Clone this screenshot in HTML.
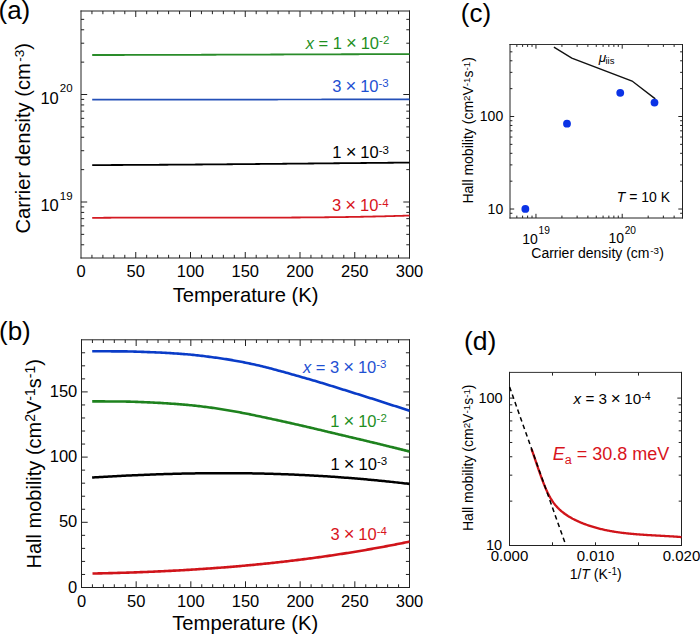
<!DOCTYPE html>
<html><head><meta charset="utf-8"><style>
html,body{margin:0;padding:0;background:#fff;overflow:hidden;}
svg{display:block;font-family:"Liberation Sans",sans-serif;}
</style></head><body>
<svg width="700" height="635" viewBox="0 0 700 635">
<rect width="700" height="635" fill="#fff"/>
<line x1="91.95" y1="258.00" x2="91.95" y2="254.80" stroke="#222" stroke-width="1.0"/>
<line x1="91.95" y1="11.00" x2="91.95" y2="14.20" stroke="#222" stroke-width="1.0"/>
<line x1="102.90" y1="258.00" x2="102.90" y2="254.80" stroke="#222" stroke-width="1.0"/>
<line x1="102.90" y1="11.00" x2="102.90" y2="14.20" stroke="#222" stroke-width="1.0"/>
<line x1="113.85" y1="258.00" x2="113.85" y2="254.80" stroke="#222" stroke-width="1.0"/>
<line x1="113.85" y1="11.00" x2="113.85" y2="14.20" stroke="#222" stroke-width="1.0"/>
<line x1="124.80" y1="258.00" x2="124.80" y2="254.80" stroke="#222" stroke-width="1.0"/>
<line x1="124.80" y1="11.00" x2="124.80" y2="14.20" stroke="#222" stroke-width="1.0"/>
<line x1="135.75" y1="258.00" x2="135.75" y2="252.00" stroke="#222" stroke-width="1.0"/>
<line x1="135.75" y1="11.00" x2="135.75" y2="17.00" stroke="#222" stroke-width="1.0"/>
<line x1="146.70" y1="258.00" x2="146.70" y2="254.80" stroke="#222" stroke-width="1.0"/>
<line x1="146.70" y1="11.00" x2="146.70" y2="14.20" stroke="#222" stroke-width="1.0"/>
<line x1="157.65" y1="258.00" x2="157.65" y2="254.80" stroke="#222" stroke-width="1.0"/>
<line x1="157.65" y1="11.00" x2="157.65" y2="14.20" stroke="#222" stroke-width="1.0"/>
<line x1="168.60" y1="258.00" x2="168.60" y2="254.80" stroke="#222" stroke-width="1.0"/>
<line x1="168.60" y1="11.00" x2="168.60" y2="14.20" stroke="#222" stroke-width="1.0"/>
<line x1="179.55" y1="258.00" x2="179.55" y2="254.80" stroke="#222" stroke-width="1.0"/>
<line x1="179.55" y1="11.00" x2="179.55" y2="14.20" stroke="#222" stroke-width="1.0"/>
<line x1="190.50" y1="258.00" x2="190.50" y2="252.00" stroke="#222" stroke-width="1.0"/>
<line x1="190.50" y1="11.00" x2="190.50" y2="17.00" stroke="#222" stroke-width="1.0"/>
<line x1="201.45" y1="258.00" x2="201.45" y2="254.80" stroke="#222" stroke-width="1.0"/>
<line x1="201.45" y1="11.00" x2="201.45" y2="14.20" stroke="#222" stroke-width="1.0"/>
<line x1="212.40" y1="258.00" x2="212.40" y2="254.80" stroke="#222" stroke-width="1.0"/>
<line x1="212.40" y1="11.00" x2="212.40" y2="14.20" stroke="#222" stroke-width="1.0"/>
<line x1="223.35" y1="258.00" x2="223.35" y2="254.80" stroke="#222" stroke-width="1.0"/>
<line x1="223.35" y1="11.00" x2="223.35" y2="14.20" stroke="#222" stroke-width="1.0"/>
<line x1="234.30" y1="258.00" x2="234.30" y2="254.80" stroke="#222" stroke-width="1.0"/>
<line x1="234.30" y1="11.00" x2="234.30" y2="14.20" stroke="#222" stroke-width="1.0"/>
<line x1="245.25" y1="258.00" x2="245.25" y2="252.00" stroke="#222" stroke-width="1.0"/>
<line x1="245.25" y1="11.00" x2="245.25" y2="17.00" stroke="#222" stroke-width="1.0"/>
<line x1="256.20" y1="258.00" x2="256.20" y2="254.80" stroke="#222" stroke-width="1.0"/>
<line x1="256.20" y1="11.00" x2="256.20" y2="14.20" stroke="#222" stroke-width="1.0"/>
<line x1="267.15" y1="258.00" x2="267.15" y2="254.80" stroke="#222" stroke-width="1.0"/>
<line x1="267.15" y1="11.00" x2="267.15" y2="14.20" stroke="#222" stroke-width="1.0"/>
<line x1="278.10" y1="258.00" x2="278.10" y2="254.80" stroke="#222" stroke-width="1.0"/>
<line x1="278.10" y1="11.00" x2="278.10" y2="14.20" stroke="#222" stroke-width="1.0"/>
<line x1="289.05" y1="258.00" x2="289.05" y2="254.80" stroke="#222" stroke-width="1.0"/>
<line x1="289.05" y1="11.00" x2="289.05" y2="14.20" stroke="#222" stroke-width="1.0"/>
<line x1="300.00" y1="258.00" x2="300.00" y2="252.00" stroke="#222" stroke-width="1.0"/>
<line x1="300.00" y1="11.00" x2="300.00" y2="17.00" stroke="#222" stroke-width="1.0"/>
<line x1="310.95" y1="258.00" x2="310.95" y2="254.80" stroke="#222" stroke-width="1.0"/>
<line x1="310.95" y1="11.00" x2="310.95" y2="14.20" stroke="#222" stroke-width="1.0"/>
<line x1="321.90" y1="258.00" x2="321.90" y2="254.80" stroke="#222" stroke-width="1.0"/>
<line x1="321.90" y1="11.00" x2="321.90" y2="14.20" stroke="#222" stroke-width="1.0"/>
<line x1="332.85" y1="258.00" x2="332.85" y2="254.80" stroke="#222" stroke-width="1.0"/>
<line x1="332.85" y1="11.00" x2="332.85" y2="14.20" stroke="#222" stroke-width="1.0"/>
<line x1="343.80" y1="258.00" x2="343.80" y2="254.80" stroke="#222" stroke-width="1.0"/>
<line x1="343.80" y1="11.00" x2="343.80" y2="14.20" stroke="#222" stroke-width="1.0"/>
<line x1="354.75" y1="258.00" x2="354.75" y2="252.00" stroke="#222" stroke-width="1.0"/>
<line x1="354.75" y1="11.00" x2="354.75" y2="17.00" stroke="#222" stroke-width="1.0"/>
<line x1="365.70" y1="258.00" x2="365.70" y2="254.80" stroke="#222" stroke-width="1.0"/>
<line x1="365.70" y1="11.00" x2="365.70" y2="14.20" stroke="#222" stroke-width="1.0"/>
<line x1="376.65" y1="258.00" x2="376.65" y2="254.80" stroke="#222" stroke-width="1.0"/>
<line x1="376.65" y1="11.00" x2="376.65" y2="14.20" stroke="#222" stroke-width="1.0"/>
<line x1="387.60" y1="258.00" x2="387.60" y2="254.80" stroke="#222" stroke-width="1.0"/>
<line x1="387.60" y1="11.00" x2="387.60" y2="14.20" stroke="#222" stroke-width="1.0"/>
<line x1="398.55" y1="258.00" x2="398.55" y2="254.80" stroke="#222" stroke-width="1.0"/>
<line x1="398.55" y1="11.00" x2="398.55" y2="14.20" stroke="#222" stroke-width="1.0"/>
<line x1="81.00" y1="244.78" x2="84.20" y2="244.78" stroke="#222" stroke-width="1.0"/>
<line x1="409.50" y1="244.78" x2="406.30" y2="244.78" stroke="#222" stroke-width="1.0"/>
<line x1="81.00" y1="234.36" x2="84.20" y2="234.36" stroke="#222" stroke-width="1.0"/>
<line x1="409.50" y1="234.36" x2="406.30" y2="234.36" stroke="#222" stroke-width="1.0"/>
<line x1="81.00" y1="225.85" x2="84.20" y2="225.85" stroke="#222" stroke-width="1.0"/>
<line x1="409.50" y1="225.85" x2="406.30" y2="225.85" stroke="#222" stroke-width="1.0"/>
<line x1="81.00" y1="218.65" x2="84.20" y2="218.65" stroke="#222" stroke-width="1.0"/>
<line x1="409.50" y1="218.65" x2="406.30" y2="218.65" stroke="#222" stroke-width="1.0"/>
<line x1="81.00" y1="212.42" x2="84.20" y2="212.42" stroke="#222" stroke-width="1.0"/>
<line x1="409.50" y1="212.42" x2="406.30" y2="212.42" stroke="#222" stroke-width="1.0"/>
<line x1="81.00" y1="206.92" x2="84.20" y2="206.92" stroke="#222" stroke-width="1.0"/>
<line x1="409.50" y1="206.92" x2="406.30" y2="206.92" stroke="#222" stroke-width="1.0"/>
<line x1="81.00" y1="202.00" x2="87.20" y2="202.00" stroke="#222" stroke-width="1.0"/>
<line x1="409.50" y1="202.00" x2="403.30" y2="202.00" stroke="#222" stroke-width="1.0"/>
<line x1="81.00" y1="169.64" x2="84.20" y2="169.64" stroke="#222" stroke-width="1.0"/>
<line x1="409.50" y1="169.64" x2="406.30" y2="169.64" stroke="#222" stroke-width="1.0"/>
<line x1="81.00" y1="150.71" x2="84.20" y2="150.71" stroke="#222" stroke-width="1.0"/>
<line x1="409.50" y1="150.71" x2="406.30" y2="150.71" stroke="#222" stroke-width="1.0"/>
<line x1="81.00" y1="137.28" x2="84.20" y2="137.28" stroke="#222" stroke-width="1.0"/>
<line x1="409.50" y1="137.28" x2="406.30" y2="137.28" stroke="#222" stroke-width="1.0"/>
<line x1="81.00" y1="126.86" x2="84.20" y2="126.86" stroke="#222" stroke-width="1.0"/>
<line x1="409.50" y1="126.86" x2="406.30" y2="126.86" stroke="#222" stroke-width="1.0"/>
<line x1="81.00" y1="118.35" x2="84.20" y2="118.35" stroke="#222" stroke-width="1.0"/>
<line x1="409.50" y1="118.35" x2="406.30" y2="118.35" stroke="#222" stroke-width="1.0"/>
<line x1="81.00" y1="111.15" x2="84.20" y2="111.15" stroke="#222" stroke-width="1.0"/>
<line x1="409.50" y1="111.15" x2="406.30" y2="111.15" stroke="#222" stroke-width="1.0"/>
<line x1="81.00" y1="104.92" x2="84.20" y2="104.92" stroke="#222" stroke-width="1.0"/>
<line x1="409.50" y1="104.92" x2="406.30" y2="104.92" stroke="#222" stroke-width="1.0"/>
<line x1="81.00" y1="99.42" x2="84.20" y2="99.42" stroke="#222" stroke-width="1.0"/>
<line x1="409.50" y1="99.42" x2="406.30" y2="99.42" stroke="#222" stroke-width="1.0"/>
<line x1="81.00" y1="94.50" x2="87.20" y2="94.50" stroke="#222" stroke-width="1.0"/>
<line x1="409.50" y1="94.50" x2="403.30" y2="94.50" stroke="#222" stroke-width="1.0"/>
<line x1="81.00" y1="62.14" x2="84.20" y2="62.14" stroke="#222" stroke-width="1.0"/>
<line x1="409.50" y1="62.14" x2="406.30" y2="62.14" stroke="#222" stroke-width="1.0"/>
<line x1="81.00" y1="43.21" x2="84.20" y2="43.21" stroke="#222" stroke-width="1.0"/>
<line x1="409.50" y1="43.21" x2="406.30" y2="43.21" stroke="#222" stroke-width="1.0"/>
<line x1="81.00" y1="29.78" x2="84.20" y2="29.78" stroke="#222" stroke-width="1.0"/>
<line x1="409.50" y1="29.78" x2="406.30" y2="29.78" stroke="#222" stroke-width="1.0"/>
<line x1="81.00" y1="19.36" x2="84.20" y2="19.36" stroke="#222" stroke-width="1.0"/>
<line x1="409.50" y1="19.36" x2="406.30" y2="19.36" stroke="#222" stroke-width="1.0"/>
<line x1="81.00" y1="11.00" x2="409.50" y2="11.00" stroke="#222" stroke-width="1.0" stroke-linecap="square"/>
<line x1="81.00" y1="258.00" x2="409.50" y2="258.00" stroke="#222" stroke-width="1.0" stroke-linecap="square"/>
<line x1="81.00" y1="11.00" x2="81.00" y2="258.00" stroke="#222" stroke-width="1.0" stroke-linecap="square"/>
<line x1="409.50" y1="11.00" x2="409.50" y2="258.00" stroke="#222" stroke-width="1.0" stroke-linecap="square"/>
<polyline points="92.20,55.01 93.70,55.01 95.21,55.01 96.71,55.01 98.22,55.01 99.72,55.01 101.22,55.01 102.73,55.00 104.23,55.00 105.73,55.00 107.24,55.00 108.74,55.00 110.25,55.00 111.75,54.99 113.25,54.99 114.76,54.99 116.26,54.99 117.76,54.99 119.27,54.98 120.77,54.98 122.28,54.98 123.78,54.98 125.28,54.97 126.79,54.97 128.29,54.97 129.79,54.97 131.30,54.96 132.80,54.96 134.31,54.96 135.81,54.96 137.31,54.95 138.82,54.95 140.32,54.95 141.83,54.94 143.33,54.94 144.83,54.94 146.34,54.93 147.84,54.93 149.34,54.93 150.85,54.92 152.35,54.92 153.86,54.92 155.36,54.91 156.86,54.91 158.37,54.90 159.87,54.90 161.37,54.90 162.88,54.89 164.38,54.89 165.89,54.88 167.39,54.88 168.89,54.88 170.40,54.87 171.90,54.87 173.40,54.86 174.91,54.86 176.41,54.85 177.92,54.85 179.42,54.85 180.92,54.84 182.43,54.84 183.93,54.83 185.44,54.83 186.94,54.82 188.44,54.82 189.95,54.81 191.45,54.81 192.95,54.80 194.46,54.80 195.96,54.79 197.47,54.79 198.97,54.78 200.47,54.78 201.98,54.77 203.48,54.77 204.98,54.76 206.49,54.76 207.99,54.75 209.50,54.75 211.00,54.74 212.50,54.74 214.01,54.73 215.51,54.73 217.01,54.72 218.52,54.72 220.02,54.71 221.53,54.71 223.03,54.70 224.53,54.69 226.04,54.69 227.54,54.68 229.05,54.68 230.55,54.67 232.05,54.67 233.56,54.66 235.06,54.66 236.56,54.65 238.07,54.65 239.57,54.64 241.08,54.63 242.58,54.63 244.08,54.62 245.59,54.62 247.09,54.61 248.59,54.61 250.10,54.60 251.60,54.59 253.11,54.59 254.61,54.58 256.11,54.58 257.62,54.57 259.12,54.57 260.62,54.56 262.13,54.56 263.63,54.55 265.14,54.54 266.64,54.54 268.14,54.53 269.65,54.53 271.15,54.52 272.65,54.52 274.16,54.51 275.66,54.50 277.17,54.50 278.67,54.49 280.17,54.49 281.68,54.48 283.18,54.48 284.69,54.47 286.19,54.47 287.69,54.46 289.20,54.45 290.70,54.45 292.20,54.44 293.71,54.44 295.21,54.43 296.72,54.43 298.22,54.42 299.72,54.42 301.23,54.41 302.73,54.40 304.23,54.40 305.74,54.39 307.24,54.39 308.75,54.38 310.25,54.38 311.75,54.37 313.26,54.37 314.76,54.36 316.26,54.36 317.77,54.35 319.27,54.35 320.78,54.34 322.28,54.34 323.78,54.33 325.29,54.33 326.79,54.32 328.30,54.32 329.80,54.31 331.30,54.31 332.81,54.30 334.31,54.30 335.81,54.29 337.32,54.29 338.82,54.28 340.33,54.28 341.83,54.27 343.33,54.27 344.84,54.26 346.34,54.26 347.84,54.26 349.35,54.25 350.85,54.25 352.36,54.24 353.86,54.24 355.36,54.23 356.87,54.23 358.37,54.23 359.87,54.22 361.38,54.22 362.88,54.21 364.39,54.21 365.89,54.21 367.39,54.20 368.90,54.20 370.40,54.19 371.91,54.19 373.41,54.19 374.91,54.18 376.42,54.18 377.92,54.18 379.42,54.17 380.93,54.17 382.43,54.17 383.94,54.16 385.44,54.16 386.94,54.16 388.45,54.15 389.95,54.15 391.45,54.15 392.96,54.14 394.46,54.14 395.97,54.14 397.47,54.14 398.97,54.13 400.48,54.13 401.98,54.13 403.48,54.13 404.99,54.12 406.49,54.12 408.00,54.12 409.50,54.12" fill="none" stroke="#2a8c2a" stroke-width="1.8" stroke-linejoin="round" />
<polyline points="92.20,99.60 93.70,99.60 95.21,99.60 96.71,99.60 98.22,99.60 99.72,99.61 101.22,99.61 102.73,99.61 104.23,99.61 105.73,99.61 107.24,99.61 108.74,99.61 110.25,99.61 111.75,99.61 113.25,99.61 114.76,99.62 116.26,99.62 117.76,99.62 119.27,99.62 120.77,99.62 122.28,99.62 123.78,99.62 125.28,99.62 126.79,99.62 128.29,99.62 129.79,99.62 131.30,99.62 132.80,99.62 134.31,99.62 135.81,99.62 137.31,99.62 138.82,99.62 140.32,99.62 141.83,99.62 143.33,99.62 144.83,99.62 146.34,99.62 147.84,99.62 149.34,99.62 150.85,99.62 152.35,99.62 153.86,99.62 155.36,99.62 156.86,99.62 158.37,99.62 159.87,99.62 161.37,99.62 162.88,99.62 164.38,99.62 165.89,99.62 167.39,99.62 168.89,99.62 170.40,99.62 171.90,99.62 173.40,99.61 174.91,99.61 176.41,99.61 177.92,99.61 179.42,99.61 180.92,99.61 182.43,99.61 183.93,99.61 185.44,99.61 186.94,99.61 188.44,99.61 189.95,99.61 191.45,99.61 192.95,99.60 194.46,99.60 195.96,99.60 197.47,99.60 198.97,99.60 200.47,99.60 201.98,99.60 203.48,99.60 204.98,99.60 206.49,99.60 207.99,99.59 209.50,99.59 211.00,99.59 212.50,99.59 214.01,99.59 215.51,99.59 217.01,99.59 218.52,99.59 220.02,99.58 221.53,99.58 223.03,99.58 224.53,99.58 226.04,99.58 227.54,99.58 229.05,99.58 230.55,99.57 232.05,99.57 233.56,99.57 235.06,99.57 236.56,99.57 238.07,99.57 239.57,99.57 241.08,99.56 242.58,99.56 244.08,99.56 245.59,99.56 247.09,99.56 248.59,99.56 250.10,99.56 251.60,99.55 253.11,99.55 254.61,99.55 256.11,99.55 257.62,99.55 259.12,99.55 260.62,99.54 262.13,99.54 263.63,99.54 265.14,99.54 266.64,99.54 268.14,99.54 269.65,99.53 271.15,99.53 272.65,99.53 274.16,99.53 275.66,99.53 277.17,99.53 278.67,99.52 280.17,99.52 281.68,99.52 283.18,99.52 284.69,99.52 286.19,99.52 287.69,99.51 289.20,99.51 290.70,99.51 292.20,99.51 293.71,99.51 295.21,99.51 296.72,99.50 298.22,99.50 299.72,99.50 301.23,99.50 302.73,99.50 304.23,99.50 305.74,99.49 307.24,99.49 308.75,99.49 310.25,99.49 311.75,99.49 313.26,99.48 314.76,99.48 316.26,99.48 317.77,99.48 319.27,99.48 320.78,99.48 322.28,99.47 323.78,99.47 325.29,99.47 326.79,99.47 328.30,99.47 329.80,99.47 331.30,99.47 332.81,99.46 334.31,99.46 335.81,99.46 337.32,99.46 338.82,99.46 340.33,99.46 341.83,99.45 343.33,99.45 344.84,99.45 346.34,99.45 347.84,99.45 349.35,99.45 350.85,99.44 352.36,99.44 353.86,99.44 355.36,99.44 356.87,99.44 358.37,99.44 359.87,99.44 361.38,99.43 362.88,99.43 364.39,99.43 365.89,99.43 367.39,99.43 368.90,99.43 370.40,99.43 371.91,99.43 373.41,99.42 374.91,99.42 376.42,99.42 377.92,99.42 379.42,99.42 380.93,99.42 382.43,99.42 383.94,99.42 385.44,99.41 386.94,99.41 388.45,99.41 389.95,99.41 391.45,99.41 392.96,99.41 394.46,99.41 395.97,99.41 397.47,99.41 398.97,99.41 400.48,99.40 401.98,99.40 403.48,99.40 404.99,99.40 406.49,99.40 408.00,99.40 409.50,99.40" fill="none" stroke="#2450b8" stroke-width="1.7" stroke-linejoin="round" />
<polyline points="92.20,165.09 93.70,165.08 95.21,165.08 96.71,165.07 98.22,165.07 99.72,165.06 101.22,165.06 102.73,165.05 104.23,165.05 105.73,165.04 107.24,165.04 108.74,165.03 110.25,165.03 111.75,165.02 113.25,165.02 114.76,165.01 116.26,165.00 117.76,165.00 119.27,164.99 120.77,164.98 122.28,164.98 123.78,164.97 125.28,164.96 126.79,164.96 128.29,164.95 129.79,164.94 131.30,164.94 132.80,164.93 134.31,164.92 135.81,164.91 137.31,164.90 138.82,164.90 140.32,164.89 141.83,164.88 143.33,164.87 144.83,164.86 146.34,164.86 147.84,164.85 149.34,164.84 150.85,164.83 152.35,164.82 153.86,164.81 155.36,164.80 156.86,164.79 158.37,164.78 159.87,164.77 161.37,164.76 162.88,164.76 164.38,164.75 165.89,164.74 167.39,164.73 168.89,164.72 170.40,164.71 171.90,164.70 173.40,164.69 174.91,164.68 176.41,164.67 177.92,164.65 179.42,164.64 180.92,164.63 182.43,164.62 183.93,164.61 185.44,164.60 186.94,164.59 188.44,164.58 189.95,164.57 191.45,164.56 192.95,164.55 194.46,164.53 195.96,164.52 197.47,164.51 198.97,164.50 200.47,164.49 201.98,164.48 203.48,164.46 204.98,164.45 206.49,164.44 207.99,164.43 209.50,164.42 211.00,164.40 212.50,164.39 214.01,164.38 215.51,164.37 217.01,164.36 218.52,164.34 220.02,164.33 221.53,164.32 223.03,164.30 224.53,164.29 226.04,164.28 227.54,164.27 229.05,164.25 230.55,164.24 232.05,164.23 233.56,164.21 235.06,164.20 236.56,164.19 238.07,164.18 239.57,164.16 241.08,164.15 242.58,164.14 244.08,164.12 245.59,164.11 247.09,164.10 248.59,164.08 250.10,164.07 251.60,164.06 253.11,164.04 254.61,164.03 256.11,164.01 257.62,164.00 259.12,163.99 260.62,163.97 262.13,163.96 263.63,163.95 265.14,163.93 266.64,163.92 268.14,163.90 269.65,163.89 271.15,163.88 272.65,163.86 274.16,163.85 275.66,163.83 277.17,163.82 278.67,163.81 280.17,163.79 281.68,163.78 283.18,163.76 284.69,163.75 286.19,163.73 287.69,163.72 289.20,163.71 290.70,163.69 292.20,163.68 293.71,163.66 295.21,163.65 296.72,163.63 298.22,163.62 299.72,163.61 301.23,163.59 302.73,163.58 304.23,163.56 305.74,163.55 307.24,163.53 308.75,163.52 310.25,163.50 311.75,163.49 313.26,163.48 314.76,163.46 316.26,163.45 317.77,163.43 319.27,163.42 320.78,163.40 322.28,163.39 323.78,163.37 325.29,163.36 326.79,163.35 328.30,163.33 329.80,163.32 331.30,163.30 332.81,163.29 334.31,163.27 335.81,163.26 337.32,163.25 338.82,163.23 340.33,163.22 341.83,163.20 343.33,163.19 344.84,163.17 346.34,163.16 347.84,163.15 349.35,163.13 350.85,163.12 352.36,163.10 353.86,163.09 355.36,163.07 356.87,163.06 358.37,163.05 359.87,163.03 361.38,163.02 362.88,163.00 364.39,162.99 365.89,162.98 367.39,162.96 368.90,162.95 370.40,162.93 371.91,162.92 373.41,162.91 374.91,162.89 376.42,162.88 377.92,162.87 379.42,162.85 380.93,162.84 382.43,162.83 383.94,162.81 385.44,162.80 386.94,162.79 388.45,162.77 389.95,162.76 391.45,162.75 392.96,162.73 394.46,162.72 395.97,162.71 397.47,162.69 398.97,162.68 400.48,162.67 401.98,162.65 403.48,162.64 404.99,162.63 406.49,162.62 408.00,162.60 409.50,162.59" fill="none" stroke="#000" stroke-width="1.8" stroke-linejoin="round" />
<polyline points="92.20,217.87 93.70,217.86 95.21,217.85 96.71,217.83 98.22,217.82 99.72,217.81 101.22,217.80 102.73,217.78 104.23,217.77 105.73,217.76 107.24,217.75 108.74,217.74 110.25,217.73 111.75,217.72 113.25,217.71 114.76,217.70 116.26,217.70 117.76,217.69 119.27,217.68 120.77,217.67 122.28,217.67 123.78,217.66 125.28,217.65 126.79,217.65 128.29,217.64 129.79,217.64 131.30,217.63 132.80,217.62 134.31,217.62 135.81,217.62 137.31,217.61 138.82,217.61 140.32,217.60 141.83,217.60 143.33,217.60 144.83,217.59 146.34,217.59 147.84,217.59 149.34,217.59 150.85,217.58 152.35,217.58 153.86,217.58 155.36,217.58 156.86,217.58 158.37,217.58 159.87,217.57 161.37,217.57 162.88,217.57 164.38,217.57 165.89,217.57 167.39,217.57 168.89,217.57 170.40,217.57 171.90,217.57 173.40,217.57 174.91,217.57 176.41,217.57 177.92,217.57 179.42,217.57 180.92,217.57 182.43,217.58 183.93,217.58 185.44,217.58 186.94,217.58 188.44,217.58 189.95,217.58 191.45,217.58 192.95,217.58 194.46,217.59 195.96,217.59 197.47,217.59 198.97,217.59 200.47,217.59 201.98,217.59 203.48,217.59 204.98,217.60 206.49,217.60 207.99,217.60 209.50,217.60 211.00,217.60 212.50,217.60 214.01,217.61 215.51,217.61 217.01,217.61 218.52,217.61 220.02,217.61 221.53,217.61 223.03,217.62 224.53,217.62 226.04,217.62 227.54,217.62 229.05,217.62 230.55,217.62 232.05,217.62 233.56,217.62 235.06,217.62 236.56,217.62 238.07,217.62 239.57,217.62 241.08,217.62 242.58,217.63 244.08,217.63 245.59,217.62 247.09,217.62 248.59,217.62 250.10,217.62 251.60,217.62 253.11,217.62 254.61,217.62 256.11,217.62 257.62,217.62 259.12,217.62 260.62,217.61 262.13,217.61 263.63,217.61 265.14,217.61 266.64,217.60 268.14,217.60 269.65,217.60 271.15,217.60 272.65,217.59 274.16,217.59 275.66,217.58 277.17,217.58 278.67,217.58 280.17,217.57 281.68,217.57 283.18,217.56 284.69,217.55 286.19,217.55 287.69,217.54 289.20,217.54 290.70,217.53 292.20,217.52 293.71,217.51 295.21,217.51 296.72,217.50 298.22,217.49 299.72,217.48 301.23,217.47 302.73,217.46 304.23,217.45 305.74,217.44 307.24,217.43 308.75,217.42 310.25,217.41 311.75,217.40 313.26,217.38 314.76,217.37 316.26,217.36 317.77,217.35 319.27,217.33 320.78,217.32 322.28,217.30 323.78,217.29 325.29,217.27 326.79,217.26 328.30,217.24 329.80,217.22 331.30,217.21 332.81,217.19 334.31,217.17 335.81,217.15 337.32,217.13 338.82,217.11 340.33,217.09 341.83,217.07 343.33,217.05 344.84,217.03 346.34,217.01 347.84,216.99 349.35,216.96 350.85,216.94 352.36,216.92 353.86,216.89 355.36,216.87 356.87,216.84 358.37,216.81 359.87,216.79 361.38,216.76 362.88,216.73 364.39,216.70 365.89,216.67 367.39,216.64 368.90,216.61 370.40,216.58 371.91,216.55 373.41,216.52 374.91,216.49 376.42,216.45 377.92,216.42 379.42,216.38 380.93,216.35 382.43,216.31 383.94,216.28 385.44,216.24 386.94,216.20 388.45,216.16 389.95,216.12 391.45,216.08 392.96,216.04 394.46,216.00 395.97,215.96 397.47,215.92 398.97,215.87 400.48,215.83 401.98,215.79 403.48,215.74 404.99,215.69 406.49,215.65 408.00,215.60 409.50,215.55" fill="none" stroke="#d41a22" stroke-width="1.8" stroke-linejoin="round" />
<text x="81.00" y="277.30" font-size="16.5" text-anchor="middle" fill="#000">0</text>
<text x="135.75" y="277.30" font-size="16.5" text-anchor="middle" fill="#000">50</text>
<text x="190.50" y="277.30" font-size="16.5" text-anchor="middle" fill="#000">100</text>
<text x="245.25" y="277.30" font-size="16.5" text-anchor="middle" fill="#000">150</text>
<text x="300.00" y="277.30" font-size="16.5" text-anchor="middle" fill="#000">200</text>
<text x="354.75" y="277.30" font-size="16.5" text-anchor="middle" fill="#000">250</text>
<text x="409.50" y="277.30" font-size="16.5" text-anchor="middle" fill="#000">300</text>
<text fill="#000"><tspan x="40.40" y="103.50" font-size="16.5">10</tspan><tspan x="59.75" y="92.20" font-size="11.5">20</tspan></text>
<text fill="#000"><tspan x="40.40" y="211.00" font-size="16.5">10</tspan><tspan x="59.75" y="199.70" font-size="11.5">19</tspan></text>
<text x="245.60" y="301.60" font-size="20.2" text-anchor="middle" fill="#000">Temperature (K)</text>
<text fill="#000" transform="translate(29.60,138.45) rotate(-90)"><tspan x="-95.15" y="0.00" font-size="20.2">Carrier density (cm</tspan><tspan x="76.65" y="-6.10" font-size="13.5">-3</tspan><tspan x="88.65" y="0.00" font-size="20.2">)</tspan></text>
<text fill="#1f8f1f"><tspan x="305.66" y="49.20" font-size="16.5" font-style="italic">x</tspan><tspan x="313.91" y="49.20" font-size="16.5"> = </tspan><tspan x="332.71" y="49.20" font-size="16.5">1</tspan><tspan x="341.89" y="49.20" font-size="16.5"> </tspan><tspan x="345.99" y="49.20" font-size="18.48">×</tspan><tspan x="356.11" y="49.20" font-size="16.5"> </tspan><tspan x="360.70" y="49.20" font-size="16.5">10</tspan><tspan x="379.05" y="44.40" font-size="11.5">-2</tspan></text>
<text fill="#1e50d2"><tspan x="332.15" y="92.20" font-size="16.5">3</tspan><tspan x="341.32" y="92.20" font-size="16.5"> </tspan><tspan x="345.43" y="92.20" font-size="18.48">×</tspan><tspan x="355.54" y="92.20" font-size="16.5"> </tspan><tspan x="360.13" y="92.20" font-size="16.5">10</tspan><tspan x="378.48" y="87.40" font-size="11.5">-3</tspan></text>
<text fill="#000"><tspan x="332.35" y="158.30" font-size="16.5">1</tspan><tspan x="341.52" y="158.30" font-size="16.5"> </tspan><tspan x="345.63" y="158.30" font-size="18.48">×</tspan><tspan x="355.74" y="158.30" font-size="16.5"> </tspan><tspan x="360.33" y="158.30" font-size="16.5">10</tspan><tspan x="378.68" y="153.50" font-size="11.5">-3</tspan></text>
<text fill="#d8141c"><tspan x="331.98" y="211.40" font-size="16.5">3</tspan><tspan x="341.15" y="211.40" font-size="16.5"> </tspan><tspan x="345.26" y="211.40" font-size="18.48">×</tspan><tspan x="355.37" y="211.40" font-size="16.5"> </tspan><tspan x="359.96" y="211.40" font-size="16.5">10</tspan><tspan x="378.31" y="206.60" font-size="11.5">-4</tspan></text>
<text x="-1.50" y="19.10" font-size="26" fill="#000">(a)</text>
<line x1="92.43" y1="587.50" x2="92.43" y2="584.30" stroke="#222" stroke-width="1.0"/>
<line x1="92.43" y1="339.80" x2="92.43" y2="343.00" stroke="#222" stroke-width="1.0"/>
<line x1="103.37" y1="587.50" x2="103.37" y2="584.30" stroke="#222" stroke-width="1.0"/>
<line x1="103.37" y1="339.80" x2="103.37" y2="343.00" stroke="#222" stroke-width="1.0"/>
<line x1="114.30" y1="587.50" x2="114.30" y2="584.30" stroke="#222" stroke-width="1.0"/>
<line x1="114.30" y1="339.80" x2="114.30" y2="343.00" stroke="#222" stroke-width="1.0"/>
<line x1="125.23" y1="587.50" x2="125.23" y2="584.30" stroke="#222" stroke-width="1.0"/>
<line x1="125.23" y1="339.80" x2="125.23" y2="343.00" stroke="#222" stroke-width="1.0"/>
<line x1="136.17" y1="587.50" x2="136.17" y2="581.30" stroke="#222" stroke-width="1.0"/>
<line x1="136.17" y1="339.80" x2="136.17" y2="346.00" stroke="#222" stroke-width="1.0"/>
<line x1="147.10" y1="587.50" x2="147.10" y2="584.30" stroke="#222" stroke-width="1.0"/>
<line x1="147.10" y1="339.80" x2="147.10" y2="343.00" stroke="#222" stroke-width="1.0"/>
<line x1="158.03" y1="587.50" x2="158.03" y2="584.30" stroke="#222" stroke-width="1.0"/>
<line x1="158.03" y1="339.80" x2="158.03" y2="343.00" stroke="#222" stroke-width="1.0"/>
<line x1="168.97" y1="587.50" x2="168.97" y2="584.30" stroke="#222" stroke-width="1.0"/>
<line x1="168.97" y1="339.80" x2="168.97" y2="343.00" stroke="#222" stroke-width="1.0"/>
<line x1="179.90" y1="587.50" x2="179.90" y2="584.30" stroke="#222" stroke-width="1.0"/>
<line x1="179.90" y1="339.80" x2="179.90" y2="343.00" stroke="#222" stroke-width="1.0"/>
<line x1="190.83" y1="587.50" x2="190.83" y2="581.30" stroke="#222" stroke-width="1.0"/>
<line x1="190.83" y1="339.80" x2="190.83" y2="346.00" stroke="#222" stroke-width="1.0"/>
<line x1="201.77" y1="587.50" x2="201.77" y2="584.30" stroke="#222" stroke-width="1.0"/>
<line x1="201.77" y1="339.80" x2="201.77" y2="343.00" stroke="#222" stroke-width="1.0"/>
<line x1="212.70" y1="587.50" x2="212.70" y2="584.30" stroke="#222" stroke-width="1.0"/>
<line x1="212.70" y1="339.80" x2="212.70" y2="343.00" stroke="#222" stroke-width="1.0"/>
<line x1="223.63" y1="587.50" x2="223.63" y2="584.30" stroke="#222" stroke-width="1.0"/>
<line x1="223.63" y1="339.80" x2="223.63" y2="343.00" stroke="#222" stroke-width="1.0"/>
<line x1="234.57" y1="587.50" x2="234.57" y2="584.30" stroke="#222" stroke-width="1.0"/>
<line x1="234.57" y1="339.80" x2="234.57" y2="343.00" stroke="#222" stroke-width="1.0"/>
<line x1="245.50" y1="587.50" x2="245.50" y2="581.30" stroke="#222" stroke-width="1.0"/>
<line x1="245.50" y1="339.80" x2="245.50" y2="346.00" stroke="#222" stroke-width="1.0"/>
<line x1="256.43" y1="587.50" x2="256.43" y2="584.30" stroke="#222" stroke-width="1.0"/>
<line x1="256.43" y1="339.80" x2="256.43" y2="343.00" stroke="#222" stroke-width="1.0"/>
<line x1="267.37" y1="587.50" x2="267.37" y2="584.30" stroke="#222" stroke-width="1.0"/>
<line x1="267.37" y1="339.80" x2="267.37" y2="343.00" stroke="#222" stroke-width="1.0"/>
<line x1="278.30" y1="587.50" x2="278.30" y2="584.30" stroke="#222" stroke-width="1.0"/>
<line x1="278.30" y1="339.80" x2="278.30" y2="343.00" stroke="#222" stroke-width="1.0"/>
<line x1="289.23" y1="587.50" x2="289.23" y2="584.30" stroke="#222" stroke-width="1.0"/>
<line x1="289.23" y1="339.80" x2="289.23" y2="343.00" stroke="#222" stroke-width="1.0"/>
<line x1="300.17" y1="587.50" x2="300.17" y2="581.30" stroke="#222" stroke-width="1.0"/>
<line x1="300.17" y1="339.80" x2="300.17" y2="346.00" stroke="#222" stroke-width="1.0"/>
<line x1="311.10" y1="587.50" x2="311.10" y2="584.30" stroke="#222" stroke-width="1.0"/>
<line x1="311.10" y1="339.80" x2="311.10" y2="343.00" stroke="#222" stroke-width="1.0"/>
<line x1="322.03" y1="587.50" x2="322.03" y2="584.30" stroke="#222" stroke-width="1.0"/>
<line x1="322.03" y1="339.80" x2="322.03" y2="343.00" stroke="#222" stroke-width="1.0"/>
<line x1="332.97" y1="587.50" x2="332.97" y2="584.30" stroke="#222" stroke-width="1.0"/>
<line x1="332.97" y1="339.80" x2="332.97" y2="343.00" stroke="#222" stroke-width="1.0"/>
<line x1="343.90" y1="587.50" x2="343.90" y2="584.30" stroke="#222" stroke-width="1.0"/>
<line x1="343.90" y1="339.80" x2="343.90" y2="343.00" stroke="#222" stroke-width="1.0"/>
<line x1="354.83" y1="587.50" x2="354.83" y2="581.30" stroke="#222" stroke-width="1.0"/>
<line x1="354.83" y1="339.80" x2="354.83" y2="346.00" stroke="#222" stroke-width="1.0"/>
<line x1="365.77" y1="587.50" x2="365.77" y2="584.30" stroke="#222" stroke-width="1.0"/>
<line x1="365.77" y1="339.80" x2="365.77" y2="343.00" stroke="#222" stroke-width="1.0"/>
<line x1="376.70" y1="587.50" x2="376.70" y2="584.30" stroke="#222" stroke-width="1.0"/>
<line x1="376.70" y1="339.80" x2="376.70" y2="343.00" stroke="#222" stroke-width="1.0"/>
<line x1="387.63" y1="587.50" x2="387.63" y2="584.30" stroke="#222" stroke-width="1.0"/>
<line x1="387.63" y1="339.80" x2="387.63" y2="343.00" stroke="#222" stroke-width="1.0"/>
<line x1="398.57" y1="587.50" x2="398.57" y2="584.30" stroke="#222" stroke-width="1.0"/>
<line x1="398.57" y1="339.80" x2="398.57" y2="343.00" stroke="#222" stroke-width="1.0"/>
<line x1="81.50" y1="574.46" x2="85.10" y2="574.46" stroke="#222" stroke-width="1.0"/>
<line x1="409.50" y1="574.46" x2="405.90" y2="574.46" stroke="#222" stroke-width="1.0"/>
<line x1="81.50" y1="561.42" x2="85.10" y2="561.42" stroke="#222" stroke-width="1.0"/>
<line x1="409.50" y1="561.42" x2="405.90" y2="561.42" stroke="#222" stroke-width="1.0"/>
<line x1="81.50" y1="548.38" x2="85.10" y2="548.38" stroke="#222" stroke-width="1.0"/>
<line x1="409.50" y1="548.38" x2="405.90" y2="548.38" stroke="#222" stroke-width="1.0"/>
<line x1="81.50" y1="535.34" x2="85.10" y2="535.34" stroke="#222" stroke-width="1.0"/>
<line x1="409.50" y1="535.34" x2="405.90" y2="535.34" stroke="#222" stroke-width="1.0"/>
<line x1="81.50" y1="522.30" x2="87.70" y2="522.30" stroke="#222" stroke-width="1.0"/>
<line x1="409.50" y1="522.30" x2="403.30" y2="522.30" stroke="#222" stroke-width="1.0"/>
<line x1="81.50" y1="509.26" x2="85.10" y2="509.26" stroke="#222" stroke-width="1.0"/>
<line x1="409.50" y1="509.26" x2="405.90" y2="509.26" stroke="#222" stroke-width="1.0"/>
<line x1="81.50" y1="496.22" x2="85.10" y2="496.22" stroke="#222" stroke-width="1.0"/>
<line x1="409.50" y1="496.22" x2="405.90" y2="496.22" stroke="#222" stroke-width="1.0"/>
<line x1="81.50" y1="483.18" x2="85.10" y2="483.18" stroke="#222" stroke-width="1.0"/>
<line x1="409.50" y1="483.18" x2="405.90" y2="483.18" stroke="#222" stroke-width="1.0"/>
<line x1="81.50" y1="470.14" x2="85.10" y2="470.14" stroke="#222" stroke-width="1.0"/>
<line x1="409.50" y1="470.14" x2="405.90" y2="470.14" stroke="#222" stroke-width="1.0"/>
<line x1="81.50" y1="457.10" x2="87.70" y2="457.10" stroke="#222" stroke-width="1.0"/>
<line x1="409.50" y1="457.10" x2="403.30" y2="457.10" stroke="#222" stroke-width="1.0"/>
<line x1="81.50" y1="444.06" x2="85.10" y2="444.06" stroke="#222" stroke-width="1.0"/>
<line x1="409.50" y1="444.06" x2="405.90" y2="444.06" stroke="#222" stroke-width="1.0"/>
<line x1="81.50" y1="431.02" x2="85.10" y2="431.02" stroke="#222" stroke-width="1.0"/>
<line x1="409.50" y1="431.02" x2="405.90" y2="431.02" stroke="#222" stroke-width="1.0"/>
<line x1="81.50" y1="417.98" x2="85.10" y2="417.98" stroke="#222" stroke-width="1.0"/>
<line x1="409.50" y1="417.98" x2="405.90" y2="417.98" stroke="#222" stroke-width="1.0"/>
<line x1="81.50" y1="404.94" x2="85.10" y2="404.94" stroke="#222" stroke-width="1.0"/>
<line x1="409.50" y1="404.94" x2="405.90" y2="404.94" stroke="#222" stroke-width="1.0"/>
<line x1="81.50" y1="391.90" x2="87.70" y2="391.90" stroke="#222" stroke-width="1.0"/>
<line x1="409.50" y1="391.90" x2="403.30" y2="391.90" stroke="#222" stroke-width="1.0"/>
<line x1="81.50" y1="378.86" x2="85.10" y2="378.86" stroke="#222" stroke-width="1.0"/>
<line x1="409.50" y1="378.86" x2="405.90" y2="378.86" stroke="#222" stroke-width="1.0"/>
<line x1="81.50" y1="365.82" x2="85.10" y2="365.82" stroke="#222" stroke-width="1.0"/>
<line x1="409.50" y1="365.82" x2="405.90" y2="365.82" stroke="#222" stroke-width="1.0"/>
<line x1="81.50" y1="352.78" x2="85.10" y2="352.78" stroke="#222" stroke-width="1.0"/>
<line x1="409.50" y1="352.78" x2="405.90" y2="352.78" stroke="#222" stroke-width="1.0"/>
<line x1="81.50" y1="339.80" x2="409.50" y2="339.80" stroke="#222" stroke-width="1.0" stroke-linecap="square"/>
<line x1="81.50" y1="587.50" x2="409.50" y2="587.50" stroke="#222" stroke-width="1.0" stroke-linecap="square"/>
<line x1="81.50" y1="339.80" x2="81.50" y2="587.50" stroke="#222" stroke-width="1.0" stroke-linecap="square"/>
<line x1="409.50" y1="339.80" x2="409.50" y2="587.50" stroke="#222" stroke-width="1.0" stroke-linecap="square"/>
<polyline points="92.20,351.30 93.70,351.30 95.21,351.30 96.71,351.30 98.22,351.30 99.72,351.30 101.22,351.31 102.73,351.31 104.23,351.31 105.73,351.31 107.24,351.32 108.74,351.32 110.25,351.32 111.75,351.33 113.25,351.33 114.76,351.33 116.26,351.34 117.76,351.34 119.27,351.35 120.77,351.35 122.28,351.36 123.78,351.38 125.28,351.40 126.79,351.42 128.29,351.45 129.79,351.48 131.30,351.52 132.80,351.56 134.31,351.60 135.81,351.65 137.31,351.69 138.82,351.74 140.32,351.79 141.83,351.85 143.33,351.90 144.83,351.96 146.34,352.02 147.84,352.08 149.34,352.13 150.85,352.19 152.35,352.25 153.86,352.31 155.36,352.37 156.86,352.43 158.37,352.50 159.87,352.57 161.37,352.64 162.88,352.72 164.38,352.80 165.89,352.88 167.39,352.97 168.89,353.05 170.40,353.15 171.90,353.24 173.40,353.34 174.91,353.44 176.41,353.54 177.92,353.64 179.42,353.75 180.92,353.86 182.43,353.97 183.93,354.09 185.44,354.20 186.94,354.32 188.44,354.44 189.95,354.58 191.45,354.71 192.95,354.86 194.46,355.02 195.96,355.18 197.47,355.35 198.97,355.52 200.47,355.70 201.98,355.89 203.48,356.07 204.98,356.26 206.49,356.45 207.99,356.64 209.50,356.84 211.00,357.03 212.50,357.22 214.01,357.42 215.51,357.62 217.01,357.83 218.52,358.04 220.02,358.26 221.53,358.47 223.03,358.70 224.53,358.93 226.04,359.16 227.54,359.40 229.05,359.64 230.55,359.89 232.05,360.15 233.56,360.41 235.06,360.67 236.56,360.95 238.07,361.22 239.57,361.51 241.08,361.79 242.58,362.09 244.08,362.38 245.59,362.69 247.09,362.99 248.59,363.31 250.10,363.62 251.60,363.94 253.11,364.27 254.61,364.59 256.11,364.93 257.62,365.26 259.12,365.60 260.62,365.94 262.13,366.30 263.63,366.66 265.14,367.04 266.64,367.42 268.14,367.81 269.65,368.20 271.15,368.60 272.65,369.01 274.16,369.41 275.66,369.82 277.17,370.23 278.67,370.64 280.17,371.05 281.68,371.45 283.18,371.87 284.69,372.28 286.19,372.70 287.69,373.11 289.20,373.54 290.70,373.96 292.20,374.38 293.71,374.81 295.21,375.24 296.72,375.66 298.22,376.09 299.72,376.52 301.23,376.95 302.73,377.38 304.23,377.81 305.74,378.24 307.24,378.67 308.75,379.10 310.25,379.54 311.75,379.97 313.26,380.41 314.76,380.85 316.26,381.29 317.77,381.73 319.27,382.18 320.78,382.63 322.28,383.09 323.78,383.55 325.29,384.01 326.79,384.47 328.30,384.94 329.80,385.41 331.30,385.88 332.81,386.35 334.31,386.82 335.81,387.29 337.32,387.76 338.82,388.23 340.33,388.70 341.83,389.17 343.33,389.64 344.84,390.11 346.34,390.58 347.84,391.05 349.35,391.52 350.85,391.99 352.36,392.46 353.86,392.93 355.36,393.40 356.87,393.87 358.37,394.34 359.87,394.81 361.38,395.29 362.88,395.76 364.39,396.23 365.89,396.71 367.39,397.18 368.90,397.66 370.40,398.14 371.91,398.61 373.41,399.09 374.91,399.57 376.42,400.05 377.92,400.53 379.42,401.02 380.93,401.50 382.43,401.98 383.94,402.47 385.44,402.95 386.94,403.44 388.45,403.92 389.95,404.41 391.45,404.90 392.96,405.39 394.46,405.87 395.97,406.36 397.47,406.85 398.97,407.34 400.48,407.84 401.98,408.33 403.48,408.82 404.99,409.32 406.49,409.81 408.00,410.30 409.50,410.80" fill="none" stroke="#0a3cc8" stroke-width="2.6" stroke-linejoin="round" />
<polyline points="92.20,401.40 93.70,401.40 95.21,401.40 96.71,401.40 98.22,401.41 99.72,401.41 101.22,401.41 102.73,401.42 104.23,401.42 105.73,401.43 107.24,401.43 108.74,401.44 110.25,401.45 111.75,401.45 113.25,401.46 114.76,401.47 116.26,401.48 117.76,401.49 119.27,401.50 120.77,401.51 122.28,401.52 123.78,401.54 125.28,401.57 126.79,401.60 128.29,401.63 129.79,401.67 131.30,401.71 132.80,401.75 134.31,401.80 135.81,401.85 137.31,401.91 138.82,401.97 140.32,402.02 141.83,402.09 143.33,402.15 144.83,402.21 146.34,402.28 147.84,402.34 149.34,402.41 150.85,402.48 152.35,402.54 153.86,402.61 155.36,402.68 156.86,402.76 158.37,402.83 159.87,402.92 161.37,403.00 162.88,403.09 164.38,403.18 165.89,403.28 167.39,403.38 168.89,403.48 170.40,403.59 171.90,403.70 173.40,403.81 174.91,403.92 176.41,404.04 177.92,404.16 179.42,404.28 180.92,404.40 182.43,404.53 183.93,404.66 185.44,404.79 186.94,404.92 188.44,405.05 189.95,405.19 191.45,405.33 192.95,405.48 194.46,405.63 195.96,405.79 197.47,405.96 198.97,406.13 200.47,406.31 201.98,406.48 203.48,406.67 204.98,406.85 206.49,407.04 207.99,407.24 209.50,407.43 211.00,407.63 212.50,407.84 214.01,408.05 215.51,408.27 217.01,408.50 218.52,408.73 220.02,408.96 221.53,409.20 223.03,409.44 224.53,409.69 226.04,409.94 227.54,410.20 229.05,410.46 230.55,410.72 232.05,410.98 233.56,411.24 235.06,411.51 236.56,411.78 238.07,412.06 239.57,412.34 241.08,412.62 242.58,412.91 244.08,413.20 245.59,413.50 247.09,413.80 248.59,414.10 250.10,414.40 251.60,414.71 253.11,415.02 254.61,415.34 256.11,415.65 257.62,415.97 259.12,416.29 260.62,416.60 262.13,416.92 263.63,417.24 265.14,417.56 266.64,417.88 268.14,418.21 269.65,418.53 271.15,418.85 272.65,419.17 274.16,419.49 275.66,419.81 277.17,420.14 278.67,420.47 280.17,420.80 281.68,421.13 283.18,421.46 284.69,421.80 286.19,422.13 287.69,422.47 289.20,422.80 290.70,423.14 292.20,423.48 293.71,423.82 295.21,424.16 296.72,424.50 298.22,424.85 299.72,425.19 301.23,425.53 302.73,425.88 304.23,426.22 305.74,426.57 307.24,426.92 308.75,427.27 310.25,427.62 311.75,427.97 313.26,428.32 314.76,428.68 316.26,429.03 317.77,429.39 319.27,429.75 320.78,430.11 322.28,430.47 323.78,430.82 325.29,431.18 326.79,431.54 328.30,431.91 329.80,432.27 331.30,432.63 332.81,432.99 334.31,433.35 335.81,433.70 337.32,434.06 338.82,434.42 340.33,434.78 341.83,435.13 343.33,435.49 344.84,435.84 346.34,436.20 347.84,436.55 349.35,436.91 350.85,437.26 352.36,437.62 353.86,437.97 355.36,438.33 356.87,438.68 358.37,439.04 359.87,439.39 361.38,439.75 362.88,440.10 364.39,440.46 365.89,440.82 367.39,441.18 368.90,441.53 370.40,441.89 371.91,442.25 373.41,442.62 374.91,442.98 376.42,443.34 377.92,443.71 379.42,444.07 380.93,444.44 382.43,444.80 383.94,445.17 385.44,445.54 386.94,445.91 388.45,446.27 389.95,446.64 391.45,447.01 392.96,447.38 394.46,447.76 395.97,448.13 397.47,448.50 398.97,448.87 400.48,449.25 401.98,449.62 403.48,450.00 404.99,450.37 406.49,450.75 408.00,451.12 409.50,451.50" fill="none" stroke="#1e821e" stroke-width="2.6" stroke-linejoin="round" />
<polyline points="92.10,477.51 93.60,477.42 95.11,477.33 96.61,477.24 98.12,477.15 99.62,477.06 101.13,476.98 102.63,476.89 104.13,476.81 105.64,476.72 107.14,476.64 108.65,476.55 110.15,476.47 111.66,476.39 113.16,476.31 114.66,476.23 116.17,476.15 117.67,476.07 119.18,475.99 120.68,475.92 122.19,475.84 123.69,475.77 125.19,475.69 126.70,475.62 128.20,475.55 129.71,475.48 131.21,475.41 132.72,475.34 134.22,475.27 135.72,475.20 137.23,475.14 138.73,475.07 140.24,475.01 141.74,474.95 143.25,474.88 144.75,474.82 146.25,474.76 147.76,474.70 149.26,474.64 150.77,474.59 152.27,474.53 153.77,474.47 155.28,474.42 156.78,474.37 158.29,474.31 159.79,474.26 161.30,474.21 162.80,474.16 164.30,474.11 165.81,474.07 167.31,474.02 168.82,473.98 170.32,473.93 171.83,473.89 173.33,473.85 174.83,473.81 176.34,473.77 177.84,473.73 179.35,473.69 180.85,473.66 182.36,473.62 183.86,473.59 185.36,473.56 186.87,473.53 188.37,473.49 189.88,473.47 191.38,473.44 192.89,473.41 194.39,473.39 195.89,473.36 197.40,473.34 198.90,473.32 200.41,473.30 201.91,473.28 203.42,473.26 204.92,473.24 206.42,473.23 207.93,473.21 209.43,473.20 210.94,473.19 212.44,473.17 213.95,473.17 215.45,473.16 216.95,473.15 218.46,473.14 219.96,473.14 221.47,473.14 222.97,473.14 224.48,473.14 225.98,473.14 227.48,473.14 228.99,473.14 230.49,473.15 232.00,473.15 233.50,473.16 235.01,473.17 236.51,473.18 238.01,473.19 239.52,473.21 241.02,473.22 242.53,473.24 244.03,473.25 245.54,473.27 247.04,473.29 248.54,473.31 250.05,473.34 251.55,473.36 253.06,473.39 254.56,473.41 256.06,473.44 257.57,473.47 259.07,473.50 260.58,473.54 262.08,473.57 263.59,473.60 265.09,473.64 266.59,473.68 268.10,473.72 269.60,473.76 271.11,473.80 272.61,473.85 274.12,473.89 275.62,473.94 277.12,473.99 278.63,474.04 280.13,474.09 281.64,474.14 283.14,474.19 284.65,474.25 286.15,474.30 287.65,474.36 289.16,474.42 290.66,474.48 292.17,474.54 293.67,474.61 295.18,474.67 296.68,474.74 298.18,474.81 299.69,474.88 301.19,474.95 302.70,475.02 304.20,475.09 305.71,475.17 307.21,475.24 308.71,475.32 310.22,475.40 311.72,475.48 313.23,475.57 314.73,475.65 316.24,475.73 317.74,475.82 319.24,475.91 320.75,476.00 322.25,476.09 323.76,476.18 325.26,476.28 326.77,476.37 328.27,476.47 329.77,476.57 331.28,476.67 332.78,476.77 334.29,476.87 335.79,476.98 337.30,477.08 338.80,477.19 340.30,477.30 341.81,477.41 343.31,477.52 344.82,477.63 346.32,477.75 347.83,477.86 349.33,477.98 350.83,478.10 352.34,478.22 353.84,478.34 355.35,478.47 356.85,478.59 358.35,478.72 359.86,478.84 361.36,478.97 362.87,479.11 364.37,479.24 365.88,479.37 367.38,479.51 368.88,479.64 370.39,479.78 371.89,479.92 373.40,480.06 374.90,480.21 376.41,480.35 377.91,480.50 379.41,480.65 380.92,480.79 382.42,480.95 383.93,481.10 385.43,481.25 386.94,481.41 388.44,481.56 389.94,481.72 391.45,481.88 392.95,482.04 394.46,482.21 395.96,482.37 397.47,482.54 398.97,482.70 400.47,482.87 401.98,483.04 403.48,483.22 404.99,483.39 406.49,483.56 408.00,483.74 409.50,483.92" fill="none" stroke="#000" stroke-width="2.5" stroke-linejoin="round" />
<polyline points="92.50,573.52 94.00,573.49 95.50,573.46 97.01,573.43 98.51,573.40 100.01,573.37 101.51,573.33 103.02,573.30 104.52,573.26 106.02,573.23 107.52,573.19 109.03,573.15 110.53,573.12 112.03,573.08 113.53,573.04 115.04,573.00 116.54,572.95 118.04,572.91 119.54,572.87 121.05,572.82 122.55,572.78 124.05,572.73 125.55,572.69 127.05,572.64 128.56,572.59 130.06,572.54 131.56,572.49 133.06,572.44 134.57,572.38 136.07,572.33 137.57,572.28 139.07,572.22 140.58,572.16 142.08,572.11 143.58,572.05 145.08,571.99 146.59,571.93 148.09,571.87 149.59,571.81 151.09,571.74 152.59,571.68 154.10,571.61 155.60,571.55 157.10,571.48 158.60,571.41 160.11,571.34 161.61,571.27 163.11,571.20 164.61,571.13 166.12,571.06 167.62,570.98 169.12,570.91 170.62,570.83 172.13,570.75 173.63,570.67 175.13,570.59 176.63,570.51 178.14,570.43 179.64,570.35 181.14,570.27 182.64,570.18 184.14,570.09 185.65,570.01 187.15,569.92 188.65,569.83 190.15,569.74 191.66,569.65 193.16,569.55 194.66,569.46 196.16,569.36 197.67,569.27 199.17,569.17 200.67,569.07 202.17,568.97 203.68,568.87 205.18,568.77 206.68,568.66 208.18,568.56 209.68,568.45 211.19,568.35 212.69,568.24 214.19,568.13 215.69,568.02 217.20,567.91 218.70,567.79 220.20,567.68 221.70,567.56 223.21,567.45 224.71,567.33 226.21,567.21 227.71,567.09 229.22,566.97 230.72,566.84 232.22,566.72 233.72,566.59 235.23,566.47 236.73,566.34 238.23,566.21 239.73,566.08 241.23,565.95 242.74,565.81 244.24,565.68 245.74,565.54 247.24,565.41 248.75,565.27 250.25,565.13 251.75,564.99 253.25,564.84 254.76,564.70 256.26,564.55 257.76,564.41 259.26,564.26 260.77,564.11 262.27,563.96 263.77,563.81 265.27,563.65 266.77,563.50 268.28,563.34 269.78,563.18 271.28,563.02 272.78,562.86 274.29,562.70 275.79,562.54 277.29,562.37 278.79,562.21 280.30,562.04 281.80,561.87 283.30,561.70 284.80,561.53 286.31,561.35 287.81,561.18 289.31,561.00 290.81,560.82 292.32,560.64 293.82,560.46 295.32,560.28 296.82,560.09 298.32,559.91 299.83,559.72 301.33,559.53 302.83,559.34 304.33,559.15 305.84,558.96 307.34,558.76 308.84,558.57 310.34,558.37 311.85,558.17 313.35,557.97 314.85,557.77 316.35,557.56 317.86,557.36 319.36,557.15 320.86,556.94 322.36,556.73 323.86,556.52 325.37,556.30 326.87,556.09 328.37,555.87 329.87,555.65 331.38,555.43 332.88,555.21 334.38,554.99 335.88,554.76 337.39,554.54 338.89,554.31 340.39,554.08 341.89,553.85 343.40,553.62 344.90,553.38 346.40,553.14 347.90,552.91 349.41,552.67 350.91,552.42 352.41,552.18 353.91,551.94 355.41,551.69 356.92,551.44 358.42,551.19 359.92,550.94 361.42,550.69 362.93,550.43 364.43,550.17 365.93,549.91 367.43,549.65 368.94,549.39 370.44,549.13 371.94,548.86 373.44,548.59 374.95,548.33 376.45,548.05 377.95,547.78 379.45,547.51 380.95,547.23 382.46,546.95 383.96,546.67 385.46,546.39 386.96,546.11 388.47,545.82 389.97,545.53 391.47,545.24 392.97,544.95 394.48,544.66 395.98,544.37 397.48,544.07 398.98,543.77 400.49,543.47 401.99,543.17 403.49,542.86 404.99,542.56 406.50,542.25 408.00,541.94 409.50,541.63" fill="none" stroke="#d0141a" stroke-width="2.6" stroke-linejoin="round" />
<text x="81.50" y="606.50" font-size="16.5" text-anchor="middle" fill="#000">0</text>
<text x="136.17" y="606.50" font-size="16.5" text-anchor="middle" fill="#000">50</text>
<text x="190.83" y="606.50" font-size="16.5" text-anchor="middle" fill="#000">100</text>
<text x="245.50" y="606.50" font-size="16.5" text-anchor="middle" fill="#000">150</text>
<text x="300.17" y="606.50" font-size="16.5" text-anchor="middle" fill="#000">200</text>
<text x="354.83" y="606.50" font-size="16.5" text-anchor="middle" fill="#000">250</text>
<text x="409.50" y="606.50" font-size="16.5" text-anchor="middle" fill="#000">300</text>
<text x="77.30" y="592.50" font-size="16.5" text-anchor="end" fill="#000">0</text>
<text x="77.30" y="527.30" font-size="16.5" text-anchor="end" fill="#000">50</text>
<text x="77.30" y="462.10" font-size="16.5" text-anchor="end" fill="#000">100</text>
<text x="77.30" y="396.90" font-size="16.5" text-anchor="end" fill="#000">150</text>
<text x="245.20" y="630.40" font-size="20.2" text-anchor="middle" fill="#000">Temperature (K)</text>
<text fill="#000" transform="translate(41.00,463.60) rotate(-90)"><tspan x="-104.88" y="0.00" font-size="20">Hall mobility (cm</tspan><tspan x="41.80" y="-6.10" font-size="14">2</tspan><tspan x="49.58" y="0.00" font-size="20">V</tspan><tspan x="62.92" y="-6.10" font-size="14">-1</tspan><tspan x="75.37" y="0.00" font-size="20">s</tspan><tspan x="85.37" y="-6.10" font-size="14">-1</tspan><tspan x="97.82" y="0.00" font-size="20">)</tspan></text>
<text fill="#1e50d2"><tspan x="302.89" y="373.20" font-size="16.5" font-style="italic">x</tspan><tspan x="311.14" y="373.20" font-size="16.5"> = </tspan><tspan x="329.95" y="373.20" font-size="16.5">3</tspan><tspan x="339.12" y="373.20" font-size="16.5"> </tspan><tspan x="343.23" y="373.20" font-size="18.48">×</tspan><tspan x="353.34" y="373.20" font-size="16.5"> </tspan><tspan x="357.93" y="373.20" font-size="16.5">10</tspan><tspan x="376.28" y="368.40" font-size="11.5">-3</tspan></text>
<text fill="#1f8f1f"><tspan x="330.22" y="427.20" font-size="16.5">1</tspan><tspan x="339.40" y="427.20" font-size="16.5"> </tspan><tspan x="343.50" y="427.20" font-size="18.48">×</tspan><tspan x="353.62" y="427.20" font-size="16.5"> </tspan><tspan x="358.20" y="427.20" font-size="16.5">10</tspan><tspan x="376.55" y="422.40" font-size="11.5">-2</tspan></text>
<text fill="#000"><tspan x="330.55" y="470.20" font-size="16.5">1</tspan><tspan x="339.72" y="470.20" font-size="16.5"> </tspan><tspan x="343.83" y="470.20" font-size="18.48">×</tspan><tspan x="353.94" y="470.20" font-size="16.5"> </tspan><tspan x="358.53" y="470.20" font-size="16.5">10</tspan><tspan x="376.88" y="465.40" font-size="11.5">-3</tspan></text>
<text fill="#d8141c"><tspan x="330.38" y="539.80" font-size="16.5">3</tspan><tspan x="339.55" y="539.80" font-size="16.5"> </tspan><tspan x="343.66" y="539.80" font-size="18.48">×</tspan><tspan x="353.77" y="539.80" font-size="16.5"> </tspan><tspan x="358.36" y="539.80" font-size="16.5">10</tspan><tspan x="376.71" y="535.00" font-size="11.5">-4</tspan></text>
<text x="-1.00" y="340.20" font-size="26" fill="#000">(b)</text>
<line x1="516.83" y1="218.00" x2="516.83" y2="215.60" stroke="#222" stroke-width="1.0"/>
<line x1="516.83" y1="44.50" x2="516.83" y2="46.90" stroke="#222" stroke-width="1.0"/>
<line x1="522.60" y1="218.00" x2="522.60" y2="215.60" stroke="#222" stroke-width="1.0"/>
<line x1="522.60" y1="44.50" x2="522.60" y2="46.90" stroke="#222" stroke-width="1.0"/>
<line x1="527.61" y1="218.00" x2="527.61" y2="215.60" stroke="#222" stroke-width="1.0"/>
<line x1="527.61" y1="44.50" x2="527.61" y2="46.90" stroke="#222" stroke-width="1.0"/>
<line x1="532.02" y1="218.00" x2="532.02" y2="215.60" stroke="#222" stroke-width="1.0"/>
<line x1="532.02" y1="44.50" x2="532.02" y2="46.90" stroke="#222" stroke-width="1.0"/>
<line x1="535.96" y1="218.00" x2="535.96" y2="213.80" stroke="#222" stroke-width="1.0"/>
<line x1="535.96" y1="44.50" x2="535.96" y2="48.70" stroke="#222" stroke-width="1.0"/>
<line x1="561.93" y1="218.00" x2="561.93" y2="215.60" stroke="#222" stroke-width="1.0"/>
<line x1="561.93" y1="44.50" x2="561.93" y2="46.90" stroke="#222" stroke-width="1.0"/>
<line x1="577.12" y1="218.00" x2="577.12" y2="215.60" stroke="#222" stroke-width="1.0"/>
<line x1="577.12" y1="44.50" x2="577.12" y2="46.90" stroke="#222" stroke-width="1.0"/>
<line x1="587.89" y1="218.00" x2="587.89" y2="215.60" stroke="#222" stroke-width="1.0"/>
<line x1="587.89" y1="44.50" x2="587.89" y2="46.90" stroke="#222" stroke-width="1.0"/>
<line x1="596.25" y1="218.00" x2="596.25" y2="215.60" stroke="#222" stroke-width="1.0"/>
<line x1="596.25" y1="44.50" x2="596.25" y2="46.90" stroke="#222" stroke-width="1.0"/>
<line x1="603.08" y1="218.00" x2="603.08" y2="215.60" stroke="#222" stroke-width="1.0"/>
<line x1="603.08" y1="44.50" x2="603.08" y2="46.90" stroke="#222" stroke-width="1.0"/>
<line x1="608.85" y1="218.00" x2="608.85" y2="215.60" stroke="#222" stroke-width="1.0"/>
<line x1="608.85" y1="44.50" x2="608.85" y2="46.90" stroke="#222" stroke-width="1.0"/>
<line x1="613.86" y1="218.00" x2="613.86" y2="215.60" stroke="#222" stroke-width="1.0"/>
<line x1="613.86" y1="44.50" x2="613.86" y2="46.90" stroke="#222" stroke-width="1.0"/>
<line x1="618.27" y1="218.00" x2="618.27" y2="215.60" stroke="#222" stroke-width="1.0"/>
<line x1="618.27" y1="44.50" x2="618.27" y2="46.90" stroke="#222" stroke-width="1.0"/>
<line x1="622.21" y1="218.00" x2="622.21" y2="213.80" stroke="#222" stroke-width="1.0"/>
<line x1="622.21" y1="44.50" x2="622.21" y2="48.70" stroke="#222" stroke-width="1.0"/>
<line x1="648.18" y1="218.00" x2="648.18" y2="215.60" stroke="#222" stroke-width="1.0"/>
<line x1="648.18" y1="44.50" x2="648.18" y2="46.90" stroke="#222" stroke-width="1.0"/>
<line x1="663.37" y1="218.00" x2="663.37" y2="215.60" stroke="#222" stroke-width="1.0"/>
<line x1="663.37" y1="44.50" x2="663.37" y2="46.90" stroke="#222" stroke-width="1.0"/>
<line x1="674.14" y1="218.00" x2="674.14" y2="215.60" stroke="#222" stroke-width="1.0"/>
<line x1="674.14" y1="44.50" x2="674.14" y2="46.90" stroke="#222" stroke-width="1.0"/>
<line x1="510.00" y1="213.27" x2="512.40" y2="213.27" stroke="#222" stroke-width="1.0"/>
<line x1="682.50" y1="213.27" x2="680.10" y2="213.27" stroke="#222" stroke-width="1.0"/>
<line x1="510.00" y1="209.03" x2="514.20" y2="209.03" stroke="#222" stroke-width="1.0"/>
<line x1="682.50" y1="209.03" x2="678.30" y2="209.03" stroke="#222" stroke-width="1.0"/>
<line x1="510.00" y1="181.18" x2="512.40" y2="181.18" stroke="#222" stroke-width="1.0"/>
<line x1="682.50" y1="181.18" x2="680.10" y2="181.18" stroke="#222" stroke-width="1.0"/>
<line x1="510.00" y1="164.88" x2="512.40" y2="164.88" stroke="#222" stroke-width="1.0"/>
<line x1="682.50" y1="164.88" x2="680.10" y2="164.88" stroke="#222" stroke-width="1.0"/>
<line x1="510.00" y1="153.32" x2="512.40" y2="153.32" stroke="#222" stroke-width="1.0"/>
<line x1="682.50" y1="153.32" x2="680.10" y2="153.32" stroke="#222" stroke-width="1.0"/>
<line x1="510.00" y1="144.36" x2="512.40" y2="144.36" stroke="#222" stroke-width="1.0"/>
<line x1="682.50" y1="144.36" x2="680.10" y2="144.36" stroke="#222" stroke-width="1.0"/>
<line x1="510.00" y1="137.03" x2="512.40" y2="137.03" stroke="#222" stroke-width="1.0"/>
<line x1="682.50" y1="137.03" x2="680.10" y2="137.03" stroke="#222" stroke-width="1.0"/>
<line x1="510.00" y1="130.84" x2="512.40" y2="130.84" stroke="#222" stroke-width="1.0"/>
<line x1="682.50" y1="130.84" x2="680.10" y2="130.84" stroke="#222" stroke-width="1.0"/>
<line x1="510.00" y1="125.47" x2="512.40" y2="125.47" stroke="#222" stroke-width="1.0"/>
<line x1="682.50" y1="125.47" x2="680.10" y2="125.47" stroke="#222" stroke-width="1.0"/>
<line x1="510.00" y1="120.74" x2="512.40" y2="120.74" stroke="#222" stroke-width="1.0"/>
<line x1="682.50" y1="120.74" x2="680.10" y2="120.74" stroke="#222" stroke-width="1.0"/>
<line x1="510.00" y1="116.50" x2="514.20" y2="116.50" stroke="#222" stroke-width="1.0"/>
<line x1="682.50" y1="116.50" x2="678.30" y2="116.50" stroke="#222" stroke-width="1.0"/>
<line x1="510.00" y1="88.65" x2="512.40" y2="88.65" stroke="#222" stroke-width="1.0"/>
<line x1="682.50" y1="88.65" x2="680.10" y2="88.65" stroke="#222" stroke-width="1.0"/>
<line x1="510.00" y1="72.35" x2="512.40" y2="72.35" stroke="#222" stroke-width="1.0"/>
<line x1="682.50" y1="72.35" x2="680.10" y2="72.35" stroke="#222" stroke-width="1.0"/>
<line x1="510.00" y1="60.79" x2="512.40" y2="60.79" stroke="#222" stroke-width="1.0"/>
<line x1="682.50" y1="60.79" x2="680.10" y2="60.79" stroke="#222" stroke-width="1.0"/>
<line x1="510.00" y1="51.83" x2="512.40" y2="51.83" stroke="#222" stroke-width="1.0"/>
<line x1="682.50" y1="51.83" x2="680.10" y2="51.83" stroke="#222" stroke-width="1.0"/>
<line x1="510.00" y1="44.50" x2="682.50" y2="44.50" stroke="#333" stroke-width="1.0" stroke-linecap="square"/>
<line x1="510.00" y1="218.00" x2="682.50" y2="218.00" stroke="#222" stroke-width="1.0" stroke-linecap="square"/>
<line x1="510.00" y1="44.50" x2="510.00" y2="218.00" stroke="#222" stroke-width="1.0" stroke-linecap="square"/>
<line x1="682.50" y1="44.50" x2="682.50" y2="218.00" stroke="#222" stroke-width="1.0" stroke-linecap="square"/>
<polyline points="553.9,47.2 571.8,58.2 632.1,81.0 655.3,98.9" fill="none" stroke="#111" stroke-width="1.4" stroke-linejoin="miter"/>
<circle cx="525.35" cy="208.95" r="3.9" fill="#0b33e6"/>
<circle cx="567.0" cy="123.65" r="3.9" fill="#0b33e6"/>
<circle cx="620.25" cy="92.85" r="3.9" fill="#0b33e6"/>
<circle cx="654.5" cy="102.6" r="3.9" fill="#0b33e6"/>
<text x="503.20" y="213.63" font-size="14" text-anchor="end" fill="#000">10</text>
<text x="503.20" y="121.20" font-size="14" text-anchor="end" fill="#000">100</text>
<text fill="#000"><tspan x="522.23" y="243.60" font-size="14">10</tspan><tspan x="538.51" y="233.80" font-size="10.2">19</tspan></text>
<text fill="#000"><tspan x="608.43" y="243.40" font-size="14">10</tspan><tspan x="624.71" y="233.60" font-size="10.2">20</tspan></text>
<text fill="#000"><tspan x="531.29" y="257.50" font-size="14">Carrier density (cm</tspan><tspan x="650.13" y="253.60" font-size="9.8">-3</tspan><tspan x="659.14" y="257.50" font-size="14">)</tspan></text>
<text fill="#000" transform="translate(473.30,130.20) rotate(-90)"><tspan x="-73.42" y="0.00" font-size="14">Hall mobility (cm</tspan><tspan x="29.26" y="-3.60" font-size="9.8">2</tspan><tspan x="34.71" y="0.00" font-size="14">V</tspan><tspan x="44.05" y="-3.60" font-size="9.8">-1</tspan><tspan x="52.76" y="0.00" font-size="14">s</tspan><tspan x="59.76" y="-3.60" font-size="9.8">-1</tspan><tspan x="68.47" y="0.00" font-size="14">)</tspan></text>
<text fill="#000"><tspan x="616.74" y="202.20" font-size="14" font-style="italic">T</tspan><tspan x="625.29" y="202.20" font-size="14"> = 10 K</tspan></text>
<text fill="#000"><tspan x="598.68" y="61.90" font-size="13.5" font-style="italic">μ</tspan><tspan x="605.48" y="64.30" font-size="9.5">iis</tspan></text>
<text x="460.80" y="22.00" font-size="26" fill="#000">(c)</text>
<line x1="552.50" y1="545.50" x2="552.50" y2="542.30" stroke="#222" stroke-width="1.0"/>
<line x1="552.50" y1="372.40" x2="552.50" y2="375.60" stroke="#222" stroke-width="1.0"/>
<line x1="595.50" y1="545.50" x2="595.50" y2="542.30" stroke="#222" stroke-width="1.0"/>
<line x1="595.50" y1="372.40" x2="595.50" y2="375.60" stroke="#222" stroke-width="1.0"/>
<line x1="638.50" y1="545.50" x2="638.50" y2="542.30" stroke="#222" stroke-width="1.0"/>
<line x1="638.50" y1="372.40" x2="638.50" y2="375.60" stroke="#222" stroke-width="1.0"/>
<line x1="509.50" y1="501.13" x2="512.30" y2="501.13" stroke="#222" stroke-width="1.0"/>
<line x1="681.50" y1="501.13" x2="678.70" y2="501.13" stroke="#222" stroke-width="1.0"/>
<line x1="509.50" y1="475.17" x2="512.30" y2="475.17" stroke="#222" stroke-width="1.0"/>
<line x1="681.50" y1="475.17" x2="678.70" y2="475.17" stroke="#222" stroke-width="1.0"/>
<line x1="509.50" y1="456.76" x2="512.30" y2="456.76" stroke="#222" stroke-width="1.0"/>
<line x1="681.50" y1="456.76" x2="678.70" y2="456.76" stroke="#222" stroke-width="1.0"/>
<line x1="509.50" y1="442.47" x2="512.30" y2="442.47" stroke="#222" stroke-width="1.0"/>
<line x1="681.50" y1="442.47" x2="678.70" y2="442.47" stroke="#222" stroke-width="1.0"/>
<line x1="509.50" y1="430.80" x2="512.30" y2="430.80" stroke="#222" stroke-width="1.0"/>
<line x1="681.50" y1="430.80" x2="678.70" y2="430.80" stroke="#222" stroke-width="1.0"/>
<line x1="509.50" y1="420.93" x2="512.30" y2="420.93" stroke="#222" stroke-width="1.0"/>
<line x1="681.50" y1="420.93" x2="678.70" y2="420.93" stroke="#222" stroke-width="1.0"/>
<line x1="509.50" y1="412.38" x2="512.30" y2="412.38" stroke="#222" stroke-width="1.0"/>
<line x1="681.50" y1="412.38" x2="678.70" y2="412.38" stroke="#222" stroke-width="1.0"/>
<line x1="509.50" y1="404.84" x2="512.30" y2="404.84" stroke="#222" stroke-width="1.0"/>
<line x1="681.50" y1="404.84" x2="678.70" y2="404.84" stroke="#222" stroke-width="1.0"/>
<line x1="509.50" y1="398.10" x2="513.70" y2="398.10" stroke="#222" stroke-width="1.0"/>
<line x1="681.50" y1="398.10" x2="677.30" y2="398.10" stroke="#222" stroke-width="1.0"/>
<line x1="509.50" y1="372.40" x2="681.50" y2="372.40" stroke="#333" stroke-width="1.0" stroke-linecap="square"/>
<line x1="509.50" y1="545.50" x2="681.50" y2="545.50" stroke="#222" stroke-width="1.0" stroke-linecap="square"/>
<line x1="509.50" y1="372.40" x2="509.50" y2="545.50" stroke="#222" stroke-width="1.0" stroke-linecap="square"/>
<line x1="681.50" y1="372.40" x2="681.50" y2="545.50" stroke="#222" stroke-width="1.0" stroke-linecap="square"/>
<polyline points="531.46,448.85 531.75,449.68 532.05,450.50 532.34,451.32 532.63,452.15 532.92,452.98 533.21,453.80 533.49,454.63 533.78,455.46 534.06,456.30 534.35,457.13 534.63,457.96 534.92,458.80 535.20,459.63 535.48,460.47 535.77,461.31 536.05,462.14 536.33,462.98 536.62,463.82 536.90,464.66 537.19,465.50 537.48,466.34 537.76,467.18 538.05,468.03 538.34,468.87 538.63,469.71 538.93,470.56 539.22,471.40 539.51,472.24 539.81,473.09 540.11,473.93 540.41,474.78 540.72,475.62 541.02,476.47 541.33,477.31 541.64,478.16 541.96,479.00 542.27,479.85 542.59,480.69 542.91,481.54 543.24,482.38 543.57,483.23 543.90,484.07 544.24,484.92 544.58,485.76 544.92,486.60 545.27,487.44 545.63,488.27 545.99,489.11 546.36,489.94 546.73,490.76 547.11,491.59 547.49,492.40 547.89,493.22 548.29,494.02 548.70,494.82 549.11,495.62 549.54,496.41 549.97,497.19 550.42,497.96 550.87,498.73 551.33,499.49 551.81,500.24 552.29,500.98 552.79,501.71 553.29,502.43 553.81,503.14 554.34,503.83 554.88,504.52 555.43,505.20 556.00,505.86 556.58,506.51 557.17,507.15 557.77,507.78 558.39,508.40 559.01,509.01 559.64,509.61 560.29,510.19 560.95,510.77 561.61,511.34 562.29,511.89 562.97,512.43 563.67,512.97 564.37,513.49 565.08,514.01 565.80,514.51 566.52,515.01 567.26,515.50 568.00,515.98 568.75,516.44 569.51,516.90 570.27,517.35 571.04,517.80 571.81,518.23 572.59,518.66 573.38,519.07 574.17,519.48 574.97,519.88 575.77,520.28 576.57,520.66 577.38,521.04 578.19,521.41 579.01,521.77 579.83,522.13 580.65,522.48 581.47,522.82 582.30,523.16 583.13,523.49 583.96,523.81 584.80,524.13 585.63,524.44 586.47,524.74 587.30,525.04 588.14,525.33 588.99,525.62 589.83,525.90 590.67,526.17 591.52,526.44 592.37,526.70 593.22,526.96 594.07,527.21 594.92,527.46 595.78,527.70 596.63,527.93 597.49,528.16 598.35,528.39 599.21,528.61 600.07,528.82 600.93,529.03 601.80,529.24 602.66,529.44 603.53,529.63 604.40,529.82 605.26,530.01 606.13,530.19 607.01,530.37 607.88,530.54 608.75,530.71 609.63,530.88 610.50,531.04 611.38,531.19 612.25,531.35 613.13,531.49 614.01,531.64 614.89,531.78 615.77,531.92 616.65,532.05 617.54,532.18 618.42,532.31 619.30,532.43 620.19,532.55 621.07,532.67 621.96,532.78 622.85,532.89 623.73,533.00 624.62,533.10 625.51,533.21 626.40,533.31 627.29,533.40 628.18,533.50 629.07,533.59 629.96,533.68 630.85,533.76 631.74,533.85 632.64,533.93 633.53,534.01 634.42,534.08 635.31,534.16 636.21,534.23 637.10,534.30 637.99,534.37 638.89,534.44 639.78,534.51 640.68,534.57 641.57,534.64 642.46,534.70 643.36,534.76 644.25,534.82 645.15,534.87 646.04,534.93 646.93,534.99 647.83,535.04 648.72,535.09 649.61,535.15 650.51,535.20 651.40,535.25 652.29,535.30 653.18,535.35 654.08,535.40 654.97,535.45 655.86,535.50 656.75,535.55 657.64,535.60 658.53,535.64 659.42,535.69 660.31,535.74 661.20,535.79 662.09,535.84 662.97,535.89 663.86,535.94 664.75,535.99 665.63,536.04 666.52,536.09 667.40,536.14 668.29,536.19 669.17,536.25 670.05,536.30 670.93,536.35 671.81,536.41 672.69,536.47 673.57,536.52 674.45,536.58 675.32,536.64 676.20,536.71 677.07,536.77 677.95,536.84 678.82,536.90 679.69,536.97 680.56,537.04 681.43,537.11" fill="none" stroke="#d0141a" stroke-width="2.3" stroke-linejoin="round" />
<line x1="509.6" y1="387.0" x2="565.9" y2="545.4" stroke="#000" stroke-width="1.5" stroke-dasharray="4.6 3.4"/>
<text x="502.20" y="549.60" font-size="14.5" text-anchor="end" fill="#000">10</text>
<text x="502.60" y="402.90" font-size="14.5" text-anchor="end" fill="#000">100</text>
<text x="509.50" y="561.40" font-size="15" text-anchor="middle" fill="#000">0.000</text>
<text x="595.50" y="561.40" font-size="15" text-anchor="middle" fill="#000">0.010</text>
<text x="681.50" y="561.40" font-size="15" text-anchor="middle" fill="#000">0.020</text>
<text fill="#000"><tspan x="569.63" y="578.50" font-size="14">1/</tspan><tspan x="581.31" y="578.50" font-size="14" font-style="italic">T</tspan><tspan x="589.86" y="578.50" font-size="14"> (K</tspan><tspan x="608.05" y="574.60" font-size="10">-1</tspan><tspan x="616.94" y="578.50" font-size="14">)</tspan></text>
<text fill="#000" transform="translate(473.30,457.60) rotate(-90)"><tspan x="-73.42" y="0.00" font-size="14">Hall mobility (cm</tspan><tspan x="29.26" y="-3.60" font-size="9.8">2</tspan><tspan x="34.71" y="0.00" font-size="14">V</tspan><tspan x="44.05" y="-3.60" font-size="9.8">-1</tspan><tspan x="52.76" y="0.00" font-size="14">s</tspan><tspan x="59.76" y="-3.60" font-size="9.8">-1</tspan><tspan x="68.47" y="0.00" font-size="14">)</tspan></text>
<text fill="#000"><tspan x="573.61" y="404.40" font-size="15.2" font-style="italic">x</tspan><tspan x="581.21" y="404.40" font-size="15.2"> = </tspan><tspan x="598.53" y="404.40" font-size="15.2">3</tspan><tspan x="606.98" y="404.40" font-size="15.2"> </tspan><tspan x="610.76" y="404.40" font-size="17.024">×</tspan><tspan x="620.08" y="404.40" font-size="15.2"> </tspan><tspan x="624.31" y="404.40" font-size="15.2">10</tspan><tspan x="641.21" y="400.00" font-size="10.6">-4</tspan></text>
<text fill="#d8141c"><tspan x="552.75" y="459.70" font-size="18" font-style="italic">E</tspan><tspan x="564.75" y="464.10" font-size="12.5">a</tspan><tspan x="571.70" y="459.70" font-size="18"> = 30.8 meV</tspan></text>
<text x="464.00" y="349.60" font-size="26.5" fill="#000">(d)</text>
</svg>
</body></html>
